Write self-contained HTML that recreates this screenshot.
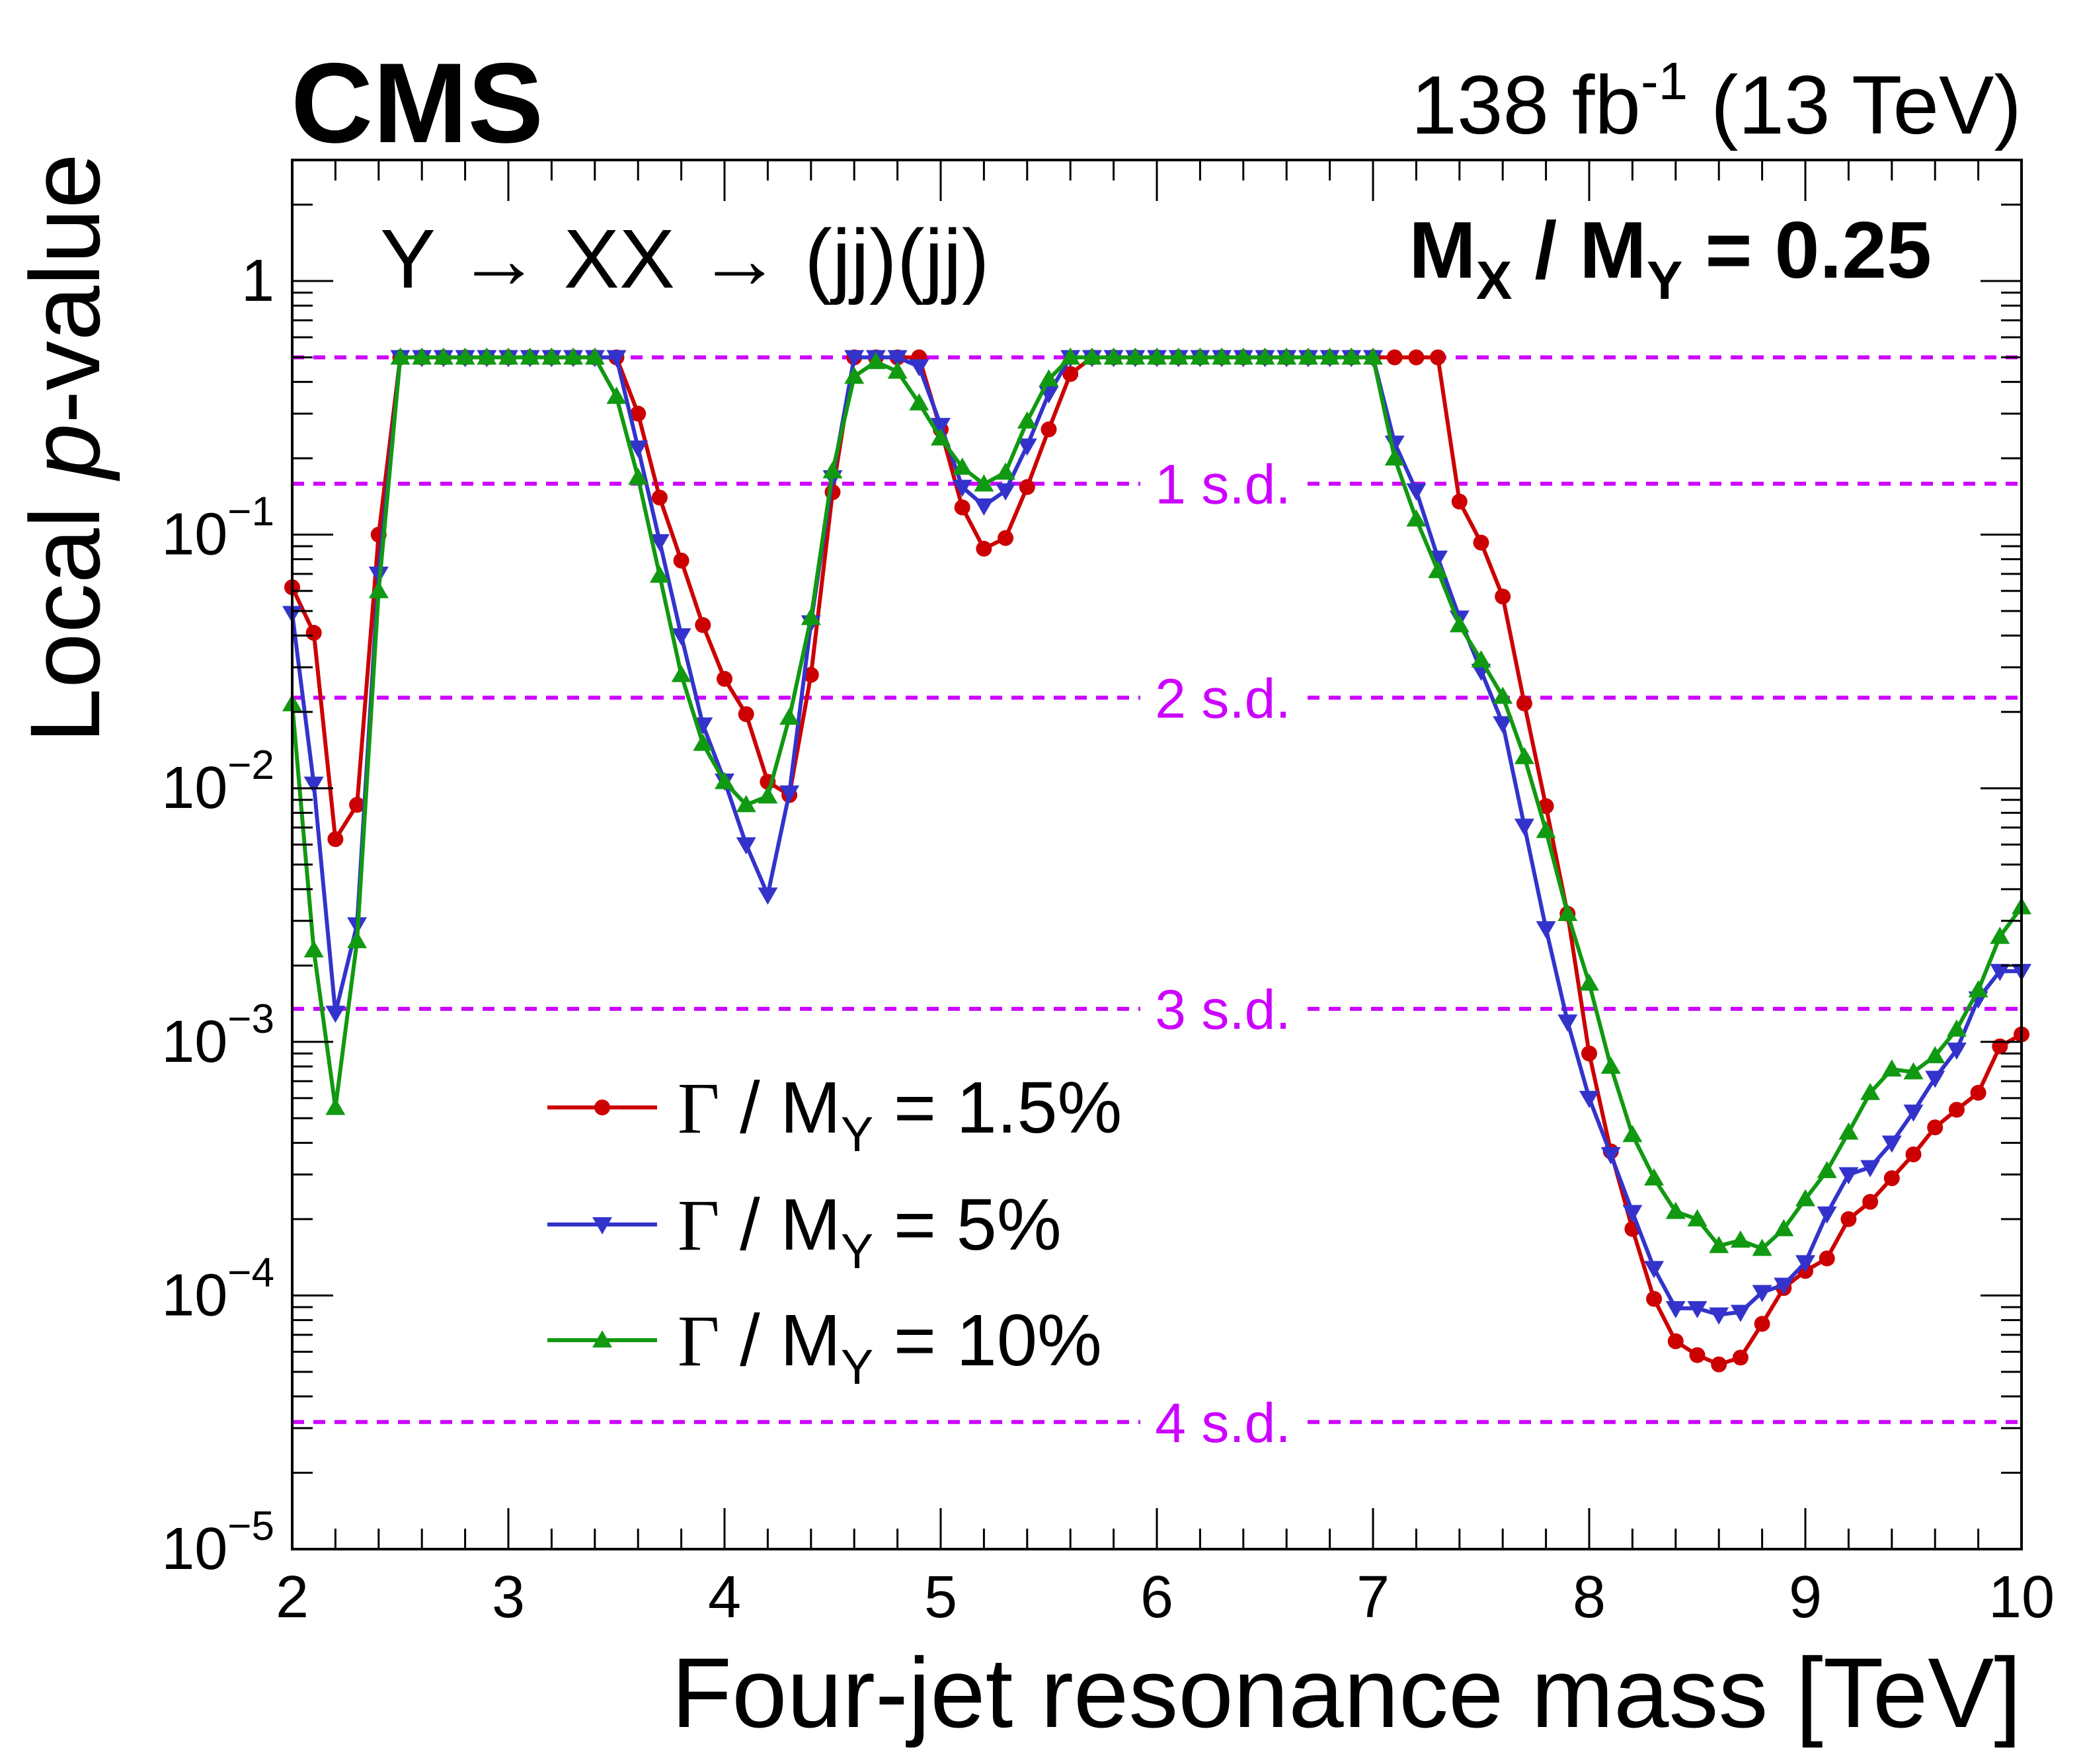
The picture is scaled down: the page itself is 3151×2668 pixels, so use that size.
<!DOCTYPE html>
<html><head><meta charset="utf-8"><style>
html,body{margin:0;padding:0;background:#fff;}
svg{display:block;font-family:"Liberation Sans",Arial,sans-serif;}
</style></head><body>
<svg id="chart" xmlns="http://www.w3.org/2000/svg" width="3151" height="2668" viewBox="0 0 3151 2668">
<rect width="3151" height="2668" fill="#fff"/>
<g id="sigma"></g>
<g id="series"></g>
<g id="axes"></g>
<text x="440" y="215" font-size="172" font-weight="bold">CMS</text>
<text x="3058" y="202" font-size="125" text-anchor="end">138 fb<tspan dy="-52" font-size="80">-1</tspan><tspan dy="52"> (13 TeV)</tspan></text>
<text x="575" y="435" font-size="126">Y → XX → (jj)(jj)</text>
<text x="2922" y="420" font-size="122" font-weight="bold" text-anchor="end">M<tspan dy="32" font-size="82">X</tspan><tspan dy="-32"> / M</tspan><tspan dy="32" font-size="82">Y</tspan><tspan dy="-32"> = 0.25</tspan></text>
<text x="3058" y="2612" font-size="150" text-anchor="end">Four-jet resonance mass [TeV]</text>
<text transform="translate(150,232) rotate(-90)" font-size="150" text-anchor="end">Local <tspan font-style="italic">p</tspan>-value</text>
<g id="legend"></g>
</svg>
<script>
const xValues = [];
for (let i = 0; i <= 80; i++) xValues.push(+(2 + i * 0.1).toFixed(1));
const pRed = [0.062,0.041,0.0063,0.0086,0.10,
0.5,0.5,0.5,0.5,0.5,0.5,0.5,0.5,0.5,0.5,0.5,
0.30,0.14,0.079,0.044,0.027,0.0196,0.0106,0.0094,0.028,0.147,
0.5,0.5,0.5,0.5,
0.26,0.128,0.088,0.097,0.154,0.26,0.43,
0.5,0.5,0.5,0.5,0.5,0.5,0.5,0.5,0.5,0.5,0.5,0.5,0.5,0.5,0.5,0.5,0.5,
0.135,0.093,0.057,0.0216,0.0085,0.0032,0.0009,0.00037,0.000183,0.000097,0.000066,0.0000582,0.0000535,0.0000569,0.0000773,0.000107,0.000125,0.00014,0.0002,0.000234,0.00029,0.00036,0.00046,0.00054,0.00063,0.00096,0.00107];
const pBlue = [0.049,0.0104,0.0013,0.0029,0.070,
0.5,0.5,0.5,0.5,0.5,0.5,0.5,0.5,0.5,0.5,0.5,
0.22,0.094,0.040,0.0178,0.0107,0.006,0.0038,0.0096,0.045,0.168,
0.5,0.5,0.5,
0.46,0.27,0.154,0.13,0.149,0.224,0.36,
0.5,0.5,0.5,0.5,0.5,0.5,0.5,0.5,0.5,0.5,0.5,0.5,0.5,0.5,0.5,
0.23,0.149,0.081,0.047,0.029,0.018,0.0071,0.0028,0.0012,
0.0006,0.00036,0.000213,0.000128,0.000089,0.000089,0.000084,0.000086,0.000103,0.00011,
0.000135,0.00021,0.0003,0.00032,0.0004,0.00053,0.00072,0.00093,0.00148,0.0019,0.0019];
const pGreen = [0.0215,0.0023,0.00055,0.0025,0.06,
0.5,0.5,0.5,0.5,0.5,0.5,0.5,0.5,0.5,0.5,
0.35,0.168,0.069,0.028,0.015,0.0106,0.0086,0.0093,0.019,0.047,0.178,
0.42,0.48,0.44,0.33,0.24,0.184,0.158,0.176,0.28,0.41,
0.5,0.5,0.5,0.5,0.5,0.5,0.5,0.5,0.5,0.5,0.5,0.5,0.5,0.5,0.5,
0.2,0.115,0.072,0.044,0.032,0.023,0.0133,0.0068,0.0032,
0.0017,0.0008,0.00043,0.00029,0.000214,0.0002,0.000157,0.000165,0.000153,0.000183,
0.00024,0.00031,0.00044,0.00063,0.00078,0.00076,0.00088,0.00112,0.0016,0.0026,0.0034];
const sigmaP = [0.5,0.1587,0.02275,0.00135,0.0000317];
const sigmaLabels = ["","1 s.d.","2 s.d.","3 s.d.","4 s.d."];
const xTickLabels = ["2","3","4","5","6","7","8","9","10"];
const yDecades = [0,-1,-2,-3,-4,-5];
const legendLabels = ["1.5%","5%","10%"];

const NS="http://www.w3.org/2000/svg";
const L=442,R=3058,T=242,B=2343;
const xmin=2,xmax=10,lmin=-5,lmax=Math.log10(3);
const X=v=>L+(v-xmin)/(xmax-xmin)*(R-L);
const Y=p=>B-(Math.log10(p)-lmin)/(lmax-lmin)*(B-T);
function mk(tag,attrs,parent){const e=document.createElementNS(NS,tag);for(const k in attrs)e.setAttribute(k,attrs[k]);parent.appendChild(e);return e;}

const sig=document.getElementById('sigma');
sigmaP.forEach((p,i)=>{
  const ln=mk('line',{x1:L,x2:R,y1:Y(p),y2:Y(p),stroke:'#cc00ff','stroke-width':6,'stroke-dasharray':'18 14'},sig);
  
  
  if(sigmaLabels[i]){
    const bg=mk('rect',{x:1725,y:Y(p)-48,width:250,height:96,fill:'#fff'},sig);
    
    
    const t=mk('text',{x:1850,y:Y(p)+30,'font-size':84,fill:'#cc00ff','text-anchor':'middle'},sig);
    t.textContent=sigmaLabels[i];
    
    
  }
});

const ser=document.getElementById('series');
function marker(kind,cx,cy,color,parent){
  let m;
  if(kind==='circle') m=mk('circle',{cx:cx,cy:cy,r:12,fill:color},parent);
  else if(kind==='down') m=mk('polygon',{points:`${cx-15},${cy-11} ${cx+15},${cy-11} ${cx},${cy+15}`,fill:color},parent);
  else m=mk('polygon',{points:`${cx-15},${cy+11} ${cx+15},${cy+11} ${cx},${cy-15}`,fill:color},parent);
  return m;
}
const seriesDefs=[[pRed,'#cc0000','circle','series-width-1p5'],[pBlue,'#3333cc','down','series-width-5'],[pGreen,'#119911','up','series-width-10']];
seriesDefs.forEach(([vals,color,kind,name])=>{
  const g=mk('g',{},ser);
  
  
  const pts=vals.map((p,i)=>X(xValues[i]).toFixed(1)+','+Y(p).toFixed(1)).join(' ');
  const pl=mk('polyline',{points:pts,fill:'none',stroke:color,'stroke-width':6},g);
  
  
  vals.forEach((p,i)=>{
    const m=marker(kind,X(xValues[i]),Y(p),color,g);
    
    
  });
});

const ax=document.getElementById('axes');
const fr=mk('rect',{x:L,y:T,width:R-L,height:B-T,fill:'none',stroke:'#000','stroke-width':4},ax);


for(let k=0;k<=40;k++){
  const v=xmin+k*0.2, x=X(v), major=(k%5===0), len=major?62:31;
  mk('line',{x1:x,x2:x,y1:B,y2:B-len,stroke:'#000','stroke-width':3},ax);
  mk('line',{x1:x,x2:x,y1:T,y2:T+len,stroke:'#000','stroke-width':3},ax);
}
xTickLabels.forEach((s,i)=>{
  const t=mk('text',{x:X(xmin+i),y:2446,'font-size':90,'text-anchor':'middle'},ax);
  t.textContent=s;
  
  
});
for(let d=-5;d<=0;d++){
  for(let m=1;m<=9;m++){
    const p=m*Math.pow(10,d); if(p>3) break;
    const y=Y(p), len=(m===1)?62:31;
    mk('line',{x1:L,x2:L+len,y1:y,y2:y,stroke:'#000','stroke-width':3},ax);
    mk('line',{x1:R,x2:R-len,y1:y,y2:y,stroke:'#000','stroke-width':3},ax);
  }
}
yDecades.forEach(d=>{
  const y=Y(Math.pow(10,d));
  const t=mk('text',{x:415,y:y+30,'font-size':90,'text-anchor':'end'},ax);
  if(d===0){t.textContent='1';}
  else{t.textContent='10';const s=mk('tspan',{dy:-44,'font-size':62},t);s.textContent='−'+(-d);}
  
  
});

const lg=document.getElementById('legend');
const legY=[1675,1852,2027];
seriesDefs.forEach(([vals,color,kind],i)=>{
  const g=mk('g',{},lg);
  
  
  mk('line',{x1:828,x2:994,y1:legY[i],y2:legY[i],stroke:color,'stroke-width':6},g);
  marker(kind,911,legY[i],color,g);
  const t=mk('text',{x:1025,y:legY[i]+38,'font-size':110},g);
  const gm=mk('tspan',{'font-family':'"Liberation Serif",serif'},t); gm.textContent='Γ';
  const a=mk('tspan',{},t); a.textContent=' / M';
  const sb=mk('tspan',{dy:28,'font-size':74},t); sb.textContent='Y';
  const b=mk('tspan',{dy:-28},t); b.textContent=' = '+legendLabels[i];
});
</script>
</body></html>
